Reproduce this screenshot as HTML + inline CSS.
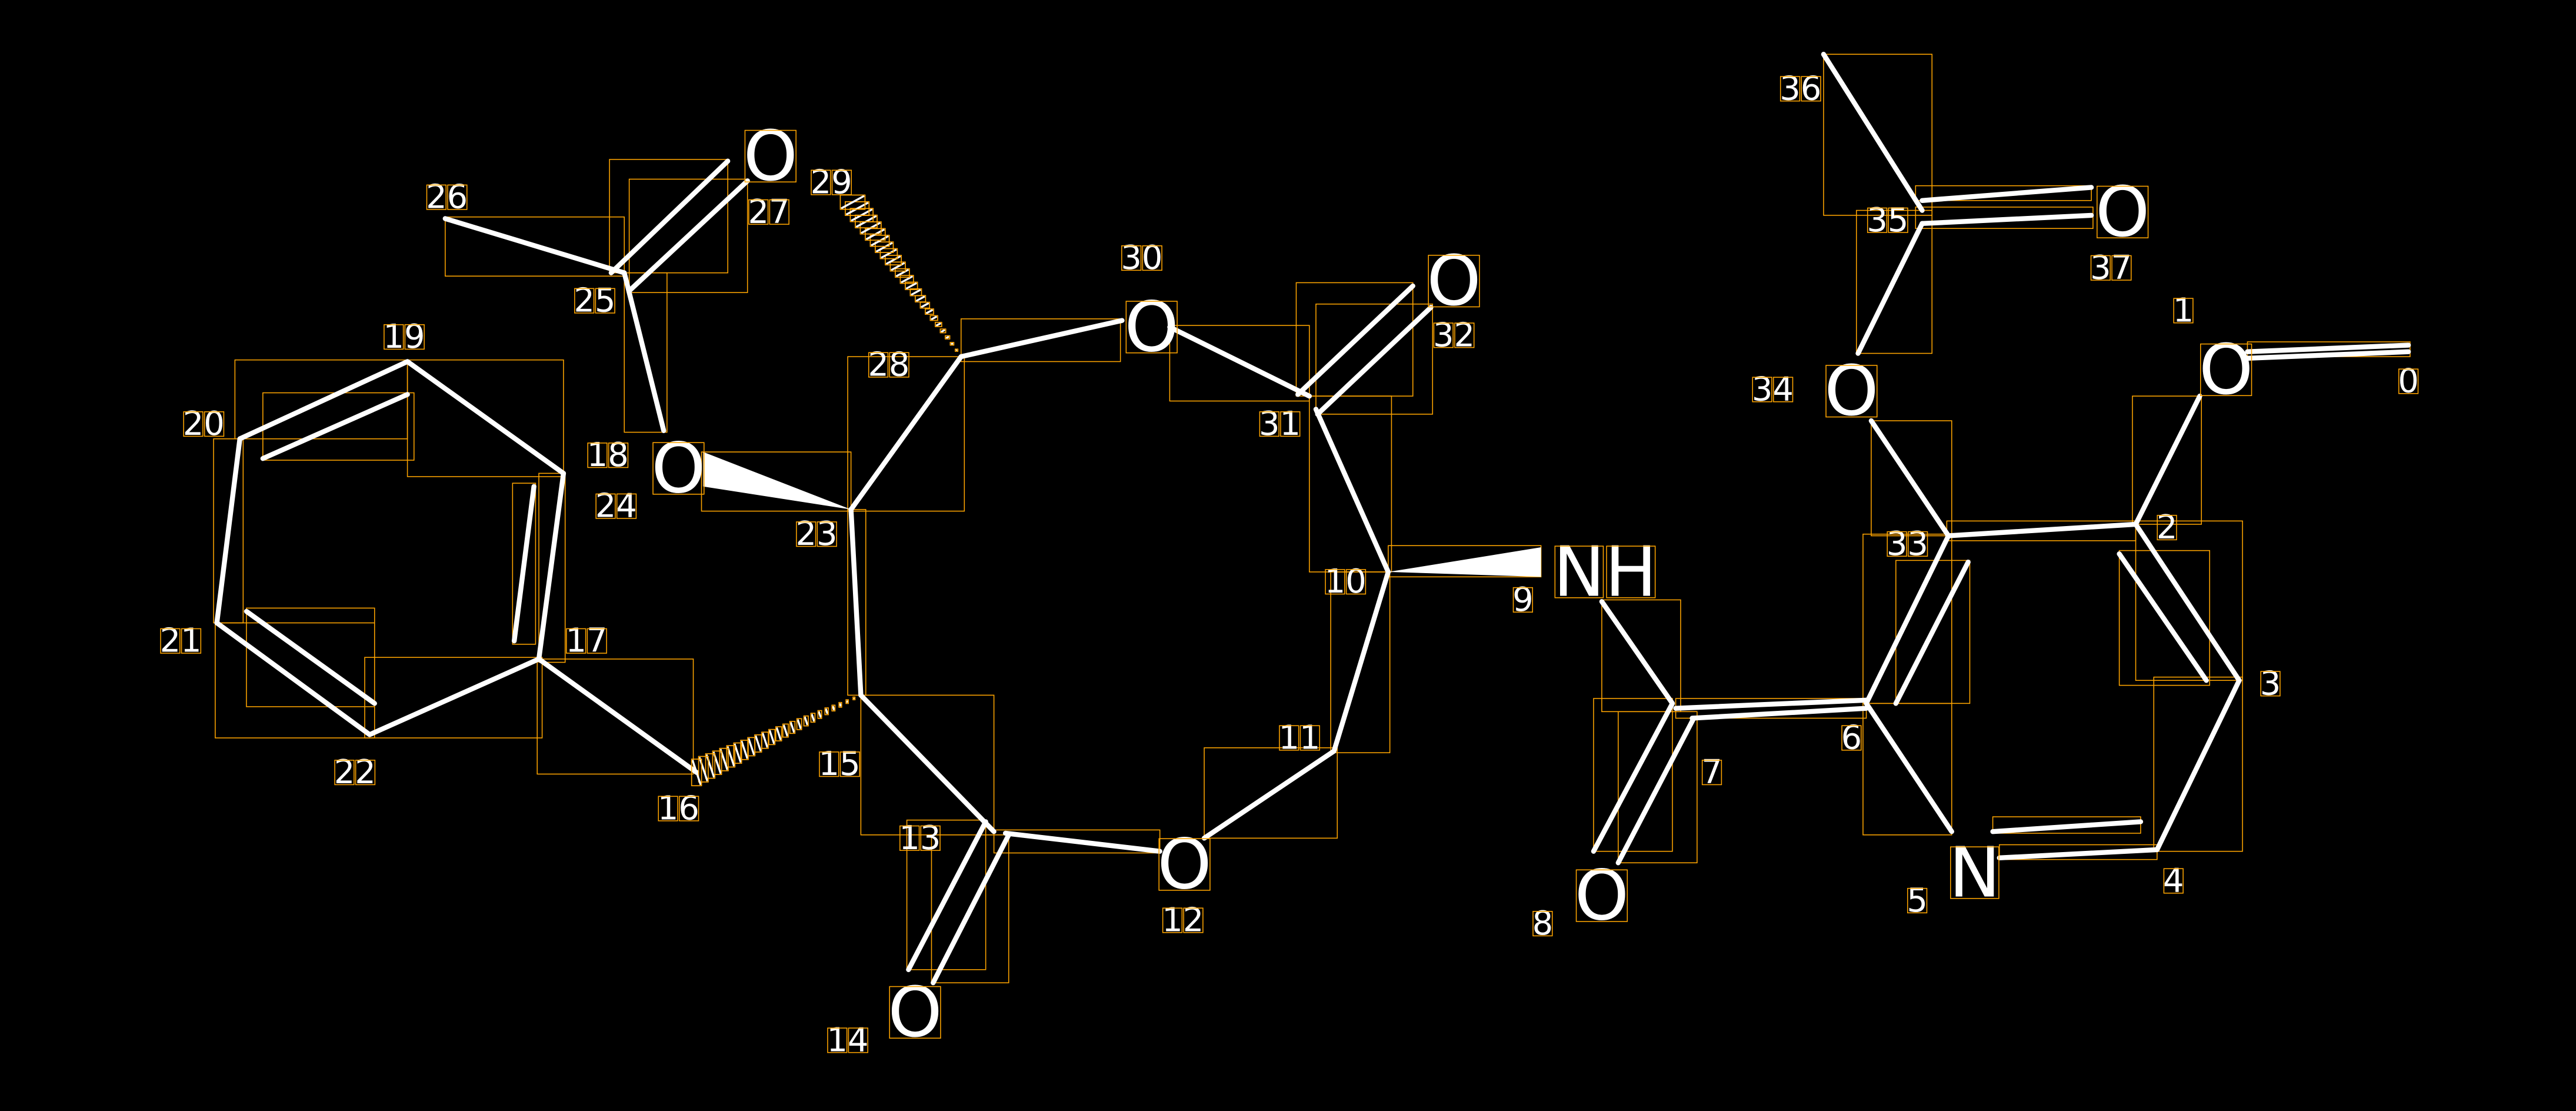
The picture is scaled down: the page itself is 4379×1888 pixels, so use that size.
<!DOCTYPE html>
<html><head><style>html,body{margin:0;padding:0;background:#000;}svg{display:block;}</style></head>
<body>
<svg id="s" width="4379" height="1888" viewBox="0 0 1568 676" xmlns="http://www.w3.org/2000/svg">
<rect width="1568" height="676" fill="#000"/>
<g fill="none" stroke="#ffa500" stroke-width="0.55">
<rect x="1110" y="33" width="66" height="98"/>
<rect x="1166" y="113" width="107" height="9"/>
<rect x="1166" y="126" width="108" height="13"/>
<rect x="1130" y="128" width="46" height="87"/>
<rect x="1139" y="256" width="49" height="70"/>
<rect x="1368" y="208" width="99" height="9"/>
<rect x="1298" y="241" width="42" height="78"/>
<rect x="1185" y="317" width="115" height="12"/>
<rect x="1300" y="317" width="65" height="97"/>
<rect x="1290" y="335" width="55" height="82"/>
<rect x="1311" y="412" width="54" height="106"/>
<rect x="1213" y="497" width="90" height="10"/>
<rect x="1217" y="514" width="96" height="9"/>
<rect x="1134" y="325" width="54" height="103"/>
<rect x="1154" y="341" width="45" height="87"/>
<rect x="1134" y="428" width="54" height="80"/>
<rect x="1020" y="425" width="116" height="12"/>
<rect x="975" y="365" width="48" height="68"/>
<rect x="970" y="425" width="48" height="93"/>
<rect x="985" y="433" width="48" height="92"/>
<rect x="845" y="332" width="93" height="19"/>
<rect x="797" y="241" width="50" height="107"/>
<rect x="810" y="348" width="36" height="110"/>
<rect x="733" y="455" width="81" height="55"/>
<rect x="789" y="172" width="71" height="69"/>
<rect x="801" y="185" width="71" height="67"/>
<rect x="712" y="198" width="85" height="46"/>
<rect x="585" y="194" width="97" height="26"/>
<rect x="516" y="217" width="71" height="94"/>
<rect x="516" y="310" width="11" height="113"/>
<rect x="427" y="275" width="91" height="36"/>
<rect x="524" y="423" width="81" height="85"/>
<rect x="552" y="499" width="48" height="91"/>
<rect x="567" y="508" width="47" height="90"/>
<rect x="605" y="505" width="101" height="14"/>
<rect x="327" y="401" width="95" height="70"/>
<rect x="222" y="400" width="108" height="49"/>
<rect x="131" y="379" width="97" height="70"/>
<rect x="150" y="370" width="78" height="60"/>
<rect x="130" y="267" width="18" height="112"/>
<rect x="143" y="219" width="105" height="48"/>
<rect x="160" y="239" width="92" height="41"/>
<rect x="248" y="219" width="95" height="71"/>
<rect x="312" y="294" width="14" height="98"/>
<rect x="328" y="288" width="16" height="115"/>
<rect x="271" y="132" width="109" height="36"/>
<rect x="371" y="97" width="72" height="69"/>
<rect x="383" y="109" width="72" height="69"/>
<rect x="380" y="166" width="26" height="97"/>
</g>
<g stroke="#fff" stroke-width="3" fill="none" stroke-linecap="round">
<line x1="1368" y1="214" x2="1466" y2="210"/>
<line x1="1368" y1="218" x2="1466" y2="214"/>
<line x1="1339" y1="241" x2="1300" y2="319"/>
<line x1="1300" y1="319" x2="1186" y2="326"/>
<line x1="1300" y1="319" x2="1363" y2="414"/>
<line x1="1290" y1="337" x2="1343" y2="414"/>
<line x1="1363" y1="414" x2="1313" y2="517"/>
<line x1="1313" y1="517" x2="1217" y2="522"/>
<line x1="1213" y1="506" x2="1303" y2="500"/>
<line x1="1136" y1="428" x2="1188" y2="506"/>
<line x1="1136" y1="428" x2="1186" y2="326"/>
<line x1="1154" y1="428" x2="1198" y2="342"/>
<line x1="1020" y1="431" x2="1136" y2="426"/>
<line x1="1030" y1="437" x2="1136" y2="431"/>
<line x1="1018" y1="428" x2="975" y2="366"/>
<line x1="1018" y1="428" x2="970" y2="518"/>
<line x1="1031" y1="437" x2="985" y2="525"/>
<line x1="1186" y1="326" x2="1139" y2="256"/>
<line x1="1131" y1="215" x2="1170" y2="136"/>
<line x1="1170" y1="128" x2="1110" y2="33"/>
<line x1="1170" y1="122" x2="1273" y2="114"/>
<line x1="1170" y1="136" x2="1273" y2="131"/>
<line x1="845" y1="348" x2="801" y2="249"/>
<line x1="845" y1="348" x2="812" y2="457"/>
<line x1="812" y1="457" x2="733" y2="510"/>
<line x1="706" y1="518" x2="612" y2="507"/>
<line x1="600" y1="500" x2="553" y2="590"/>
<line x1="614" y1="508" x2="568" y2="598"/>
<line x1="605" y1="506" x2="524" y2="423"/>
<line x1="524" y1="423" x2="518" y2="310"/>
<line x1="518" y1="310" x2="585" y2="217"/>
<line x1="585" y1="217" x2="683" y2="195"/>
<line x1="712" y1="199" x2="797" y2="241"/>
<line x1="790" y1="240" x2="860" y2="174"/>
<line x1="802" y1="252" x2="871" y2="187"/>
<line x1="328" y1="401" x2="424" y2="470"/>
<line x1="328" y1="401" x2="225" y2="447"/>
<line x1="248" y1="220" x2="343" y2="288"/>
<line x1="343" y1="288" x2="328" y2="401"/>
<line x1="325" y1="296" x2="313" y2="390"/>
<line x1="248" y1="220" x2="146" y2="267"/>
<line x1="248" y1="240" x2="160" y2="279"/>
<line x1="146" y1="267" x2="132" y2="379"/>
<line x1="132" y1="379" x2="225" y2="447"/>
<line x1="150" y1="372" x2="228" y2="428"/>
<line x1="380" y1="166" x2="271" y2="133"/>
<line x1="372" y1="166" x2="443" y2="98"/>
<line x1="383" y1="177" x2="455" y2="110"/>
<line x1="380" y1="166" x2="404" y2="262"/>
</g>
<polygon points="845,348 938,333 938,351" fill="#fff"/>
<polygon points="518,310 428,275 428,296" fill="#fff"/>
<g id="hash"></g>
<g id="lbl" font-family="DejaVu Sans, Liberation Sans, sans-serif" fill="#fff" text-anchor="middle" dominant-baseline="central">
<g font-size="20">
<text x="1466" y="232">0</text><text x="1329" y="189">1</text><text x="1319" y="321">2</text>
<text x="1382" y="416">3</text><text x="1323" y="536">4</text><text x="1167" y="548">5</text>
<text x="1127" y="449">6</text><text x="1042" y="470">7</text><text x="939" y="562">8</text>
<text x="927" y="365">9</text><text x="819" y="354">10</text><text x="791" y="449">11</text>
<text x="720" y="560">12</text><text x="560" y="510">13</text><text x="516" y="633">14</text>
<text x="511" y="465">15</text><text x="413" y="492">16</text><text x="357" y="390">17</text>
<text x="370" y="277">18</text><text x="246" y="205">19</text><text x="124" y="258">20</text>
<text x="110" y="390">21</text><text x="216" y="470">22</text><text x="497" y="325">23</text>
<text x="375" y="308">24</text><text x="362" y="183">25</text><text x="272" y="120">26</text>
<text x="468" y="129">27</text><text x="541" y="222">28</text><text x="506" y="111">29</text>
<text x="695" y="157">30</text><text x="779" y="258">31</text><text x="885" y="204">32</text>
<text x="1161" y="331">33</text><text x="1079" y="237">34</text><text x="1149" y="134">35</text>
<text x="1096" y="54">36</text><text x="1285" y="163">37</text>
</g>
<g font-size="42">
<text x="1355" y="225">O</text><text x="1202" y="531">N</text><text x="975" y="545">O</text>
<text x="977" y="348">NH</text><text x="721" y="526">O</text><text x="557" y="616">O</text>
<text x="413" y="285">O</text><text x="469" y="95">O</text><text x="701" y="199">O</text>
<text x="885" y="171">O</text><text x="1127" y="238">O</text><text x="1292" y="129">O</text>
</g>
</g>
<g id="boxes" fill="none" stroke="#ffa500" stroke-width="0.55"></g>
</svg>
<script>
var NS="http://www.w3.org/2000/svg";
var H=document.getElementById("hash");
function el(t,a,p){var e=document.createElementNS(NS,t);for(var k in a)e.setAttribute(k,a[k]);p.appendChild(e);return e;}
function hashed(x0,y0,x1,y1,w,n,ang){
 for(var i=1;i<=n;i++){var t=i/n;var cx=x0+(x1-x0)*t,cy=y0+(y1-y0)*t;var hw=w*t/2;
  var dx=Math.cos(ang)*hw,dy=Math.sin(ang)*hw;
  var ax=cx-dx,ay=cy-dy,bx=cx+dx,by=cy+dy;
  el("line",{x1:ax,y1:ay,x2:bx,y2:by,stroke:"#fff","stroke-width":1.2},H);
  el("rect",{x:Math.min(ax,bx)-0.5,y:Math.min(ay,by)-0.5,width:Math.abs(bx-ax)+1,height:Math.abs(by-ay)+1,fill:"none",stroke:"#ffa500","stroke-width":0.6},H);}
}
hashed(524,423,424,470,16,24,1.25);
hashed(585,217,519,123,16,24,-0.5);
var B=document.getElementById("boxes");
var ts=document.querySelectorAll("#lbl text");
for(var j=0;j<ts.length;j++){var t=ts[j];var n=t.getNumberOfChars();
 for(var c=0;c<n;c++){try{var r=t.getExtentOfChar(c);var big=parseFloat(t.parentNode.getAttribute("font-size"))>30;
  var px=big?1:0.5,py=big?r.height*0.18:r.height*0.18;
  el("rect",{x:r.x+px,y:r.y+py,width:r.width-2*px,height:r.height-2*py},B);}catch(e){}}}
</script>
</body></html>
